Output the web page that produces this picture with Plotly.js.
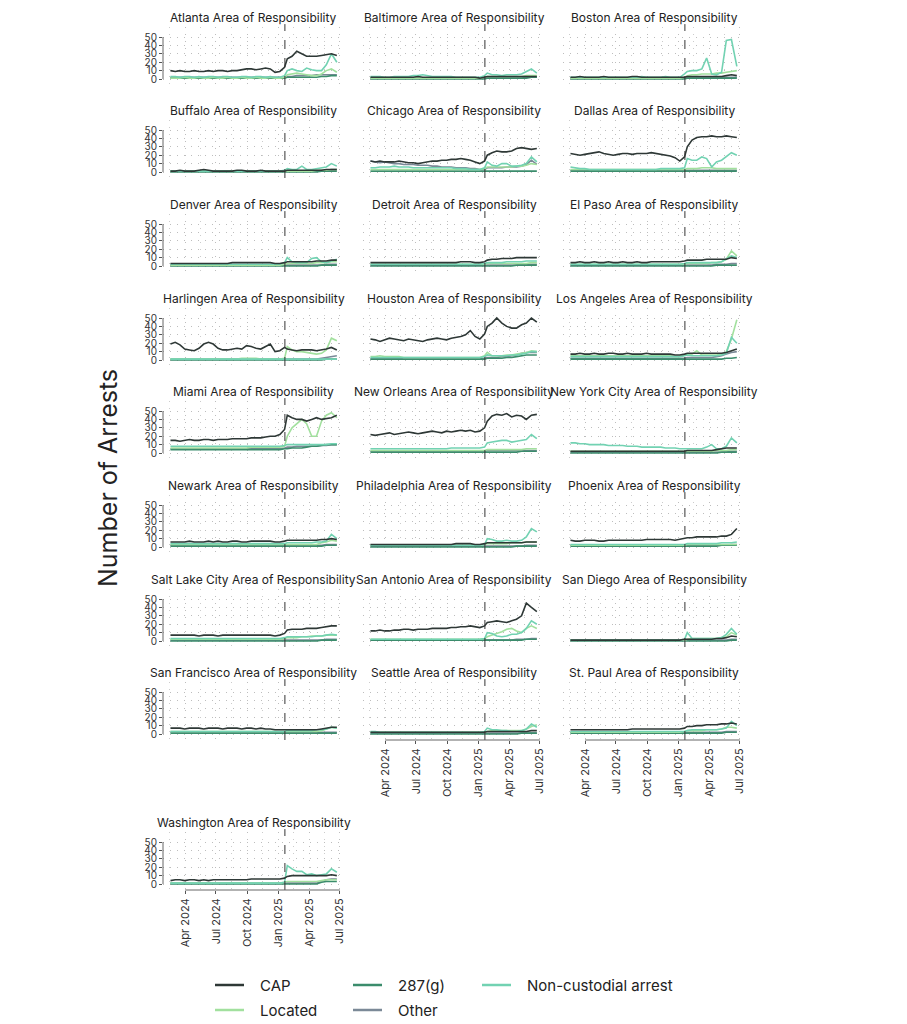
<!DOCTYPE html>
<html><head><meta charset="utf-8">
<script src="https://cdn.plot.ly/plotly-3.0.1.min.js"></script>
<style>body{margin:0;background:#fff}#chart{width:907px;height:1024px}</style>
</head><body><div id="chart"></div>
<script>
const DATES = ['2024-02-18','2024-03-03','2024-03-17','2024-03-31','2024-04-14','2024-04-28','2024-05-12','2024-05-26','2024-06-09','2024-06-23','2024-07-07','2024-07-21','2024-08-04','2024-08-18','2024-09-01','2024-09-15','2024-09-29','2024-10-13','2024-10-27','2024-11-10','2024-11-24','2024-12-08','2024-12-22','2025-01-05','2025-01-19','2025-01-27','2025-02-10','2025-02-24','2025-03-11','2025-03-25','2025-04-09','2025-04-23','2025-05-08','2025-05-22','2025-06-06','2025-06-22'];
const REGIONS = ['Atlanta','Baltimore','Boston','Buffalo','Chicago','Dallas','Denver','Detroit','El Paso','Harlingen','Houston','Los Angeles','Miami','New Orleans','New York City','Newark','Philadelphia','Phoenix','Salt Lake City','San Antonio','San Diego','San Francisco','Seattle','St. Paul','Washington'];
const SERIES = ['CAP','287(g)','Non-custodial arrest','Located','Other'];
const TICK_DATES = ['2024-04-01','2024-07-01','2024-10-01','2025-01-01','2025-04-01','2025-07-01'];
const TICK_TEXT = ['Apr 2024','Jul 2024','Oct 2024','Jan 2025','Apr 2025','Jul 2025'];
const MINOR_DATES = ['2024-02-15','2024-05-16','2024-08-16','2024-11-15','2025-02-14','2025-05-16'];
const Y_TICKS = [0,10,20,30,40,50];
const EVENT_DATE = '2025-01-20';

// Atlanta
const ATL_CAP = [10,9,10,9,9,10, 9,9,10,9,10,10, 9,10,10,11,12,12, 11,12,13,12,8,9, 14,24,27,33,30,27,27,27,28,29,30,28];
const ATL_287 = [1,1,1,1,1,1, 1,1,1,1,1,1, 1,1,1,1,1,1, 1,1,1,1,1,1, 1,2,2,2,2,2,2,2,3,3,4,4];
const ATL_NC  = [3,3,2,3,3,2, 3,2,3,3,2,3, 3,2,2,3,3,2, 3,3,2,3,2,2, 4,10,12,10,9,13,11,10,10,17,30,20];
const ATL_LOC = [1,1,1,2,1,1, 2,1,1,2,1,1, 2,1,1,2,1,1, 2,1,1,2,1,1, 2,5,6,7,6,5,4,4,6,10,12,8];
const ATL_OTH = [2,2,2,2,2,2, 2,2,2,2,2,2, 2,2,2,2,2,2, 2,2,2,2,2,2, 2,3,3,4,4,4,4,5,5,5,5,5];
// Baltimore
const BAL_CAP = [2,2,2,2,2,2, 2,2,2,2,3,2, 2,2,2,2,2,2, 2,2,2,2,2,1, 2,3,3,3,3,3,3,3,3,3,3,3];
const BAL_287 = [0,0,0,0,0,0, 0,0,0,0,0,0, 0,0,0,0,0,0, 0,0,0,0,0,0, 0,1,1,1,1,1,1,1,1,1,2,2];
const BAL_NC  = [3,3,3,2,2,3, 3,3,3,4,4,5, 4,3,3,3,3,3, 2,2,2,2,2,2, 4,7,5,5,4,5,5,5,6,9,12,7];
const BAL_LOC = [1,1,1,1,1,1, 1,1,1,1,1,1, 1,1,1,1,1,1, 1,1,1,1,1,1, 2,3,3,3,3,3,3,3,3,4,4,4];
const BAL_OTH = [1,1,1,1,1,1, 1,1,1,1,1,1, 1,1,1,1,1,1, 1,1,1,1,1,1, 1,1,1,1,1,1,1,1,2,2,2,2];
// Boston
const BOS_CAP = [2,2,3,2,2,2, 2,3,2,2,2,2, 2,3,3,2,2,2, 2,2,2,2,2,2, 2,3,3,3,3,3,3,3,3,4,5,4];
const BOS_287 = [0,0,0,0,0,0, 0,0,0,0,0,0, 0,0,0,0,0,0, 0,0,0,0,0,0, 0,1,1,1,1,1,1,1,1,1,1,1];
const BOS_NC  = [2,2,2,2,2,2, 2,2,2,2,2,2, 2,2,2,3,2,2, 2,2,3,2,2,2, 6,9,10,10,12,25,6,5,8,46,47,15];
const BOS_LOC = [1,1,1,1,1,1, 1,1,1,1,1,1, 1,1,1,1,1,1, 1,1,1,1,1,1, 2,4,5,5,6,6,6,7,7,8,9,10];
const BOS_OTH = [1,1,1,1,1,1, 1,1,1,1,1,1, 1,1,1,1,1,1, 1,1,1,1,1,1, 1,1,1,1,1,1,1,1,1,2,2,2];
// Buffalo
const BUF_CAP = [1,1,2,1,1,1, 2,3,2,1,1,1, 1,1,2,2,1,1, 1,2,1,1,1,1, 1,2,2,2,2,2,2,2,2,3,3,3];
const BUF_287 = [0,0,0,0,0,0, 0,0,0,0,0,0, 0,0,0,0,0,0, 0,0,0,0,0,0, 0,0,0,0,0,0,0,0,1,1,1,1];
const BUF_NC  = [1,1,1,1,1,1, 1,1,1,1,1,1, 1,1,1,1,1,1, 1,1,1,1,1,1, 2,4,3,3,7,3,3,4,5,6,10,7];
const BUF_LOC = [1,1,1,1,1,1, 1,1,1,1,1,1, 1,1,1,1,1,1, 1,1,1,1,1,1, 1,1,1,1,1,1,1,2,2,2,3,3];
const BUF_OTH = [1,1,1,1,1,1, 1,1,1,1,1,1, 1,1,1,1,1,1, 1,1,1,1,1,1, 1,1,1,1,1,1,1,1,2,2,3,3];
// Chicago
const CHI_CAP = [13,12,13,12,12,12, 13,12,11,11,10,11, 12,13,13,14,14,15, 15,16,15,14,12,10, 13,20,23,25,24,24,25,28,29,28,27,28];
const CHI_287 = [1,1,1,1,1,1, 1,1,1,1,1,1, 1,1,1,1,1,1, 1,1,1,1,1,1, 1,1,1,1,1,1,1,1,1,1,1,1];
const CHI_NC  = [5,5,6,6,6,7, 6,6,6,5,5,5, 5,5,5,5,5,5, 4,4,4,3,3,3, 5,12,8,7,10,10,7,7,8,10,18,12];
const CHI_LOC = [3,3,3,3,3,3, 3,3,3,3,3,3, 3,3,3,3,3,3, 3,3,3,3,3,3, 4,6,6,6,6,6,6,7,7,8,10,9];
const CHI_OTH = [13,12,11,12,11,10, 10,9,9,9,8,8, 8,7,7,6,6,6, 5,5,5,4,4,3, 3,5,5,5,5,6,6,6,7,9,14,9];
// Dallas
const DAL_CAP = [22,21,20,21,22,23, 24,22,21,20,21,22, 22,21,22,22,22,23, 22,21,20,19,17,13, 18,30,38,41,42,42,43,42,42,43,42,41];
const DAL_287 = [1,1,1,1,1,1, 1,1,1,1,1,1, 1,1,1,1,1,1, 1,1,1,1,1,1, 1,1,1,1,1,1,1,1,1,1,1,1];
const DAL_NC  = [6,5,4,4,3,3, 3,3,3,3,3,3, 3,3,3,3,3,3, 3,4,4,4,4,4, 5,16,14,14,18,16,6,12,14,18,23,20];
const DAL_LOC = [3,3,3,3,3,3, 3,3,3,3,3,3, 3,3,3,3,3,3, 3,3,3,3,3,3, 3,4,4,4,5,5,5,4,4,4,4,4];
const DAL_OTH = [2,2,2,2,2,2, 2,2,2,2,2,2, 2,2,2,2,2,2, 2,2,2,2,2,2, 2,2,2,2,2,2,2,2,2,2,2,2];
// Denver
const DEN_CAP = [3,3,3,3,3,3, 3,3,3,3,3,3, 3,4,4,4,4,4, 4,4,4,4,3,3, 4,5,5,5,5,5,5,6,6,6,7,7];
const DEN_287 = [0,0,0,0,0,0, 0,0,0,0,0,0, 0,0,0,0,0,0, 0,0,0,0,0,0, 0,0,0,0,0,0,0,0,1,1,1,1];
const DEN_NC  = [2,2,2,2,2,2, 2,2,2,2,2,2, 2,2,2,2,2,2, 2,2,2,2,2,2, 4,10,5,4,4,4,9,10,5,4,6,8];
const DEN_LOC = [1,1,1,1,1,1, 1,1,1,1,1,1, 1,1,1,1,1,1, 1,1,1,1,1,1, 2,3,3,3,3,3,3,4,4,4,5,5];
const DEN_OTH = [1,1,1,1,1,1, 1,1,1,1,1,1, 1,1,1,1,1,1, 1,1,1,1,1,1, 1,1,1,1,1,1,1,1,1,2,2,2];
// Detroit
const DET_CAP = [4,4,4,4,4,4, 4,4,4,4,4,4, 4,4,4,4,4,4, 4,5,5,5,4,4, 5,7,8,8,9,9,9,10,10,10,10,10];
const DET_287 = [0,0,0,0,0,0, 0,0,0,0,0,0, 0,0,0,0,0,0, 0,0,0,0,0,0, 0,0,0,0,0,0,0,1,1,1,1,1];
const DET_NC  = [2,2,2,2,2,2, 2,2,2,2,2,2, 2,2,2,2,2,2, 2,2,2,2,2,2, 3,4,4,4,4,5,5,5,5,6,6,6];
const DET_LOC = [2,2,2,2,2,2, 2,2,2,2,2,2, 2,2,2,2,2,2, 2,2,2,2,2,2, 2,3,3,3,3,3,3,3,3,3,4,4];
const DET_OTH = [1,1,1,1,1,1, 1,1,1,1,1,1, 1,1,1,1,1,1, 1,1,1,1,1,1, 1,1,1,1,1,1,1,1,2,2,2,2];
// El Paso
const ELP_CAP = [4,4,5,4,4,5, 4,4,5,4,4,5, 4,4,5,4,4,5, 5,5,5,5,5,5, 6,7,7,7,7,8,8,8,8,8,10,9];
const ELP_287 = [0,0,0,0,0,0, 0,0,0,0,0,0, 0,0,0,0,0,0, 0,0,0,0,0,0, 0,0,0,0,0,0,0,1,1,1,1,1];
const ELP_NC  = [2,2,2,2,2,2, 2,2,2,2,2,2, 2,2,2,2,2,2, 2,2,2,2,2,2, 3,4,4,4,4,4,4,4,5,8,12,10];
const ELP_LOC = [2,2,2,2,2,2, 2,2,2,2,2,2, 2,2,2,2,2,2, 2,2,2,2,2,2, 2,3,3,3,3,3,4,4,5,8,18,12];
const ELP_OTH = [1,1,1,1,1,1, 1,1,1,1,1,1, 1,1,1,1,1,1, 1,1,1,1,1,1, 1,1,1,1,1,1,1,2,2,2,3,3];
// Harlingen
const HAR_CAP = [19,21,18,13,12,11, 14,19,21,19,14,12, 12,13,14,13,17,16, 14,13,16,19,10,11, 15,13,12,11,12,12,12,11,12,13,15,12];
const HAR_287 = [0,0,0,0,0,0, 0,0,0,0,0,0, 0,0,0,0,0,0, 0,0,0,0,0,0, 0,0,0,0,0,0,0,0,0,1,1,1];
const HAR_NC  = [1,1,1,1,1,1, 1,1,1,1,1,1, 1,1,1,1,1,1, 1,1,1,1,1,1, 1,1,1,1,1,1,1,1,1,1,1,1];
const HAR_LOC = [1,1,1,1,1,1, 1,1,1,1,1,1, 1,1,1,2,2,2, 2,1,1,1,1,1, 2,16,12,10,10,9,8,7,8,12,26,23];
const HAR_OTH = [1,1,1,1,1,1, 1,1,1,1,1,1, 1,1,1,1,1,1, 1,1,1,1,1,1, 1,1,1,1,1,1,1,1,2,3,4,5];
// Houston
const HOU_CAP = [25,24,22,24,26,25, 24,23,25,24,23,22, 24,25,26,25,24,26, 27,28,30,35,28,25, 31,40,44,50,44,40,38,38,42,44,50,45];
const HOU_287 = [1,1,1,1,1,1, 1,1,1,1,1,1, 1,1,1,1,1,1, 1,1,1,1,1,1, 1,2,2,2,2,3,3,4,5,6,6,6];
const HOU_NC  = [3,3,3,3,3,3, 3,3,3,3,3,3, 3,3,3,3,3,3, 3,3,3,3,3,3, 4,6,5,5,5,5,6,6,7,8,10,10];
const HOU_LOC = [4,4,5,4,4,4, 4,3,3,3,3,3, 3,3,3,3,3,3, 3,3,3,3,3,3, 5,9,5,5,5,6,6,7,8,9,11,10];
const HOU_OTH = [1,1,1,1,1,1, 1,1,1,1,1,1, 1,1,1,1,1,1, 1,1,1,1,1,1, 2,3,3,3,4,4,5,6,8,9,9,9];
// Los Angeles
const LAX_CAP = [7,7,8,7,7,8, 7,7,8,8,7,7, 8,7,7,7,8,7, 7,7,7,7,6,6, 7,8,8,8,8,8,8,8,8,9,11,13];
const LAX_287 = [1,1,1,1,1,1, 1,1,1,1,1,1, 1,1,1,1,1,1, 1,1,1,1,1,1, 1,1,1,1,1,1,1,1,1,2,2,3];
const LAX_NC  = [4,4,4,4,4,4, 4,4,4,4,4,4, 4,4,4,4,4,4, 4,4,4,4,4,4, 5,6,5,5,5,5,5,5,6,8,27,20];
const LAX_LOC = [5,5,5,5,5,5, 5,5,5,5,5,5, 5,5,5,5,5,5, 5,5,5,5,4,4, 6,7,7,11,6,6,6,6,7,10,25,48];
const LAX_OTH = [2,2,2,2,2,2, 2,2,2,2,2,2, 2,2,2,2,2,2, 2,2,2,2,2,2, 2,3,3,3,3,3,3,4,5,7,9,10];
// Miami
const MIA_CAP = [15,15,14,15,16,15, 15,16,16,15,16,16, 16,17,17,17,17,18, 18,18,19,20,20,22, 28,45,42,40,40,38,40,42,40,41,42,45];
const MIA_287 = [4,4,4,4,4,4, 4,4,4,4,4,4, 4,4,4,4,4,4, 4,4,4,4,4,4, 5,5,6,6,6,7,8,8,9,10,10,10];
const MIA_NC  = [8,8,8,8,8,8, 8,8,8,8,8,8, 8,8,8,8,8,8, 8,8,8,8,8,8, 9,10,10,10,10,10,10,10,10,10,11,11];
const MIA_LOC = [6,6,6,6,6,6, 6,6,6,6,6,6, 6,6,6,6,6,7, 7,7,7,7,7,7, 8,20,30,35,40,35,20,20,38,45,48,42];
const MIA_OTH = [5,5,5,5,5,5, 5,5,5,5,5,5, 5,5,5,5,5,5, 5,5,5,5,5,5, 6,7,7,8,8,8,8,8,9,9,10,10];
// New Orleans
const NOL_CAP = [22,21,22,23,24,22, 23,24,25,24,23,24, 25,26,25,24,26,25, 26,27,26,27,25,26, 30,38,44,46,45,47,43,45,44,40,45,46];
const NOL_287 = [1,1,1,1,1,1, 1,1,1,1,1,1, 1,1,1,1,1,1, 1,1,1,1,1,1, 1,1,1,1,1,1,1,1,2,2,2,2];
const NOL_NC  = [5,5,5,5,5,5, 5,5,5,5,5,5, 5,5,5,5,5,6, 6,6,6,6,6,6, 7,12,13,14,15,15,13,14,15,16,22,17];
const NOL_LOC = [3,3,3,3,3,3, 3,3,3,3,3,3, 3,3,3,3,3,3, 3,3,3,3,3,3, 3,4,4,4,4,4,4,4,4,5,5,5];
const NOL_OTH = [2,2,2,2,2,2, 2,2,2,2,2,2, 2,2,2,2,2,2, 2,2,2,2,2,2, 2,3,3,3,3,3,3,3,3,3,3,3];
// New York City
const NYC_CAP = [2,2,2,2,2,2, 2,2,2,2,2,2, 2,2,2,2,2,2, 2,2,2,2,2,2, 2,3,3,3,3,3,3,4,5,6,6,6];
const NYC_287 = [0,0,0,0,0,0, 0,0,0,0,0,0, 0,0,0,0,0,0, 0,0,0,0,0,0, 0,0,0,0,0,0,0,0,1,1,1,1];
const NYC_NC  = [12,12,11,11,10,10, 10,10,9,9,9,9, 8,8,8,7,7,7, 7,7,6,6,6,5, 5,5,5,5,5,7,10,5,5,8,18,12];
const NYC_LOC = [2,2,2,2,2,2, 2,2,2,2,2,2, 2,2,2,2,2,2, 2,2,2,2,2,2, 2,2,2,2,2,2,2,3,3,3,4,4];
const NYC_OTH = [1,1,1,1,1,1, 1,1,1,1,1,1, 1,1,1,1,1,1, 1,1,1,1,1,1, 1,1,1,1,1,1,1,1,1,2,2,2];
// Newark
const NWK_CAP = [6,6,6,6,7,6, 6,6,7,6,7,6, 6,7,7,6,6,7, 7,7,7,7,6,6, 7,8,8,8,8,8,8,8,9,9,10,9];
const NWK_287 = [1,1,1,1,1,1, 1,1,1,1,1,1, 1,1,1,1,1,1, 1,1,1,1,1,1, 1,1,1,1,1,1,1,1,1,2,2,2];
const NWK_NC  = [4,4,4,4,4,4, 4,4,4,4,4,4, 4,4,4,4,4,4, 4,4,4,4,4,4, 4,5,5,5,5,5,5,6,6,7,15,10];
const NWK_LOC = [3,3,3,3,3,3, 3,3,3,3,3,3, 3,3,3,3,3,3, 3,3,3,3,3,3, 3,3,3,3,3,3,3,3,5,6,8,7];
const NWK_OTH = [2,2,2,2,2,2, 2,2,2,2,2,2, 2,2,2,2,2,2, 2,2,2,2,2,2, 2,2,2,2,2,2,2,2,2,3,3,3];
// Philadelphia
const PHL_CAP = [3,3,3,3,3,3, 3,3,3,3,3,3, 3,3,3,3,3,3, 4,4,4,4,3,3, 4,5,5,5,5,5,5,5,5,6,6,6];
const PHL_287 = [0,0,0,0,0,0, 0,0,0,0,0,0, 0,0,0,0,0,0, 0,0,0,0,0,0, 0,0,0,0,0,0,0,1,1,1,1,1];
const PHL_NC  = [2,2,2,2,2,2, 2,2,2,2,2,2, 2,2,2,2,2,2, 2,2,2,2,2,2, 3,10,9,7,7,8,7,7,8,12,22,18];
const PHL_LOC = [2,2,2,2,2,2, 2,2,2,2,2,2, 2,2,2,2,2,2, 2,2,2,2,2,2, 3,4,4,4,4,4,5,5,5,6,6,6];
const PHL_OTH = [1,1,1,1,1,1, 1,1,1,1,1,1, 1,1,1,1,1,1, 1,1,1,1,1,1, 1,1,1,1,1,1,1,1,1,2,2,2];
// Phoenix
const PHX_CAP = [8,7,7,8,8,8, 7,7,8,8,8,8, 8,8,8,8,9,9, 9,9,9,9,8,9, 10,11,11,12,12,12,12,12,13,13,15,22];
const PHX_287 = [1,1,1,1,1,1, 1,1,1,1,1,1, 1,1,1,1,1,1, 1,1,1,1,1,1, 1,1,1,1,1,1,1,1,2,2,2,2];
const PHX_NC  = [3,3,3,3,3,3, 3,3,3,3,3,3, 3,3,3,3,3,3, 3,3,3,3,3,3, 3,4,4,4,4,4,4,4,5,5,5,6];
const PHX_LOC = [2,2,2,2,2,2, 2,2,2,2,2,2, 2,2,2,2,2,2, 2,2,2,2,2,2, 2,3,3,3,3,3,3,3,3,3,3,3];
const PHX_OTH = [2,2,2,2,2,2, 2,2,2,2,2,2, 2,2,2,2,2,2, 2,2,2,2,2,2, 2,2,2,2,2,2,2,2,2,2,3,3];
// Salt Lake City
const SLC_CAP = [7,7,7,7,7,7, 6,7,7,7,6,7, 7,7,7,7,7,7, 7,7,7,7,6,7, 9,13,14,14,14,15,15,15,16,17,18,18];
const SLC_287 = [0,0,0,0,0,0, 0,0,0,0,0,0, 0,0,0,0,0,0, 0,0,0,0,0,0, 0,0,0,0,0,0,0,0,1,1,1,1];
const SLC_NC  = [3,3,3,3,3,3, 3,3,3,3,3,3, 3,3,3,3,3,3, 3,3,3,3,3,3, 4,5,5,5,5,5,5,6,6,7,8,7];
const SLC_LOC = [2,2,2,2,2,2, 2,2,2,2,2,2, 2,2,2,2,2,2, 2,2,2,2,2,2, 3,4,4,4,5,5,6,6,6,7,7,7];
const SLC_OTH = [1,1,1,1,1,1, 1,1,1,1,1,1, 1,1,1,1,1,1, 1,1,1,1,1,1, 1,1,1,1,1,1,1,1,1,2,2,2];
// San Antonio
const SAT_CAP = [12,12,13,12,12,13, 13,14,14,13,14,14, 14,15,15,15,15,16, 16,17,17,18,17,16, 18,22,23,24,23,22,24,26,30,45,40,35];
const SAT_287 = [1,1,1,1,1,1, 1,1,1,1,1,1, 1,1,1,1,1,1, 1,1,1,1,1,1, 1,1,1,1,1,1,1,1,1,2,2,2];
const SAT_NC  = [2,2,2,2,2,2, 2,2,2,2,2,2, 2,2,2,2,2,2, 2,2,2,2,2,2, 3,10,9,6,5,6,8,8,10,15,24,20];
const SAT_LOC = [2,2,2,2,2,2, 2,2,2,2,2,2, 2,2,2,2,2,2, 2,2,2,2,2,2, 3,5,7,9,11,14,15,12,10,15,18,15];
const SAT_OTH = [1,1,1,1,1,1, 1,1,1,1,1,1, 1,1,1,1,1,1, 1,1,1,1,1,1, 1,1,1,1,1,1,1,2,2,2,3,3];
// San Diego
const SAN_CAP = [1,1,1,1,1,1, 1,1,1,1,1,1, 1,1,1,1,1,1, 1,1,1,1,1,1, 2,2,2,2,2,2,2,3,3,4,6,5];
const SAN_287 = [0,0,0,0,0,0, 0,0,0,0,0,0, 0,0,0,0,0,0, 0,0,0,0,0,0, 0,0,0,0,0,0,0,0,0,0,1,1];
const SAN_NC  = [1,1,1,1,1,1, 1,1,1,1,1,1, 1,1,1,1,1,1, 1,1,1,1,1,1, 2,10,3,3,3,3,3,3,4,8,15,8];
const SAN_LOC = [1,1,1,1,1,1, 1,1,1,1,1,1, 1,1,1,1,1,1, 1,1,1,1,1,1, 1,2,3,3,3,3,3,3,4,5,10,7];
const SAN_OTH = [1,1,1,1,1,1, 1,1,1,1,1,1, 1,1,1,1,1,1, 1,1,1,1,1,1, 1,1,1,1,1,1,1,1,1,1,2,2];
// San Francisco
const SFO_CAP = [7,7,7,6,7,7, 7,6,7,7,7,6, 7,7,7,6,7,7, 6,7,6,6,5,5, 5,5,5,5,5,5,5,5,6,7,8,8];
const SFO_287 = [1,1,1,1,1,1, 1,1,1,1,1,1, 1,1,1,1,1,1, 1,1,1,1,1,1, 1,1,1,1,1,1,1,1,1,1,1,1];
const SFO_NC  = [3,3,3,3,3,3, 3,3,3,3,3,3, 3,3,3,3,3,3, 3,3,3,3,3,3, 3,4,4,4,4,4,4,5,5,6,8,7];
const SFO_LOC = [3,3,3,3,3,3, 3,3,3,3,3,3, 3,3,3,3,3,3, 3,3,3,3,3,3, 3,3,3,3,3,3,3,3,4,6,8,7];
const SFO_OTH = [2,2,2,2,2,2, 2,2,2,2,2,2, 2,2,2,2,2,2, 2,2,2,2,2,2, 2,2,2,2,2,2,2,2,2,2,2,2];
// Seattle
const SEA_CAP = [2,2,2,2,2,2, 2,2,2,2,2,2, 2,2,2,2,2,2, 2,2,2,2,2,2, 2,3,3,3,3,3,3,3,3,3,4,4];
const SEA_287 = [0,0,0,0,0,0, 0,0,0,0,0,0, 0,0,0,0,0,0, 0,0,0,0,0,0, 0,0,0,0,0,0,0,0,1,1,1,1];
const SEA_NC  = [3,3,2,2,2,2, 2,2,2,2,2,2, 2,2,2,2,2,2, 2,2,2,2,2,2, 3,7,5,5,4,4,3,3,4,6,12,8];
const SEA_LOC = [2,2,2,2,2,2, 2,2,2,2,2,2, 2,2,2,2,2,2, 2,2,2,2,2,2, 2,3,4,4,4,4,4,4,4,6,9,11];
const SEA_OTH = [1,1,1,1,1,1, 1,1,1,1,1,1, 1,1,1,1,1,1, 1,1,1,1,1,1, 1,1,1,1,1,1,1,1,1,1,1,1];
// St. Paul
const STP_CAP = [5,5,5,5,5,5, 5,5,5,5,5,5, 5,6,6,6,6,6, 6,6,6,6,6,6, 7,9,9,10,10,11,11,11,12,12,13,12];
const STP_287 = [1,1,1,1,1,1, 1,1,1,1,1,1, 1,1,1,1,1,1, 1,1,1,1,1,1, 1,1,1,1,1,1,1,1,1,2,2,2];
const STP_NC  = [3,3,3,3,3,3, 3,3,3,3,3,3, 3,3,3,3,3,3, 3,3,3,3,3,3, 3,4,5,5,5,5,5,5,6,7,15,10];
const STP_LOC = [2,2,2,2,2,2, 2,2,2,2,2,2, 2,2,2,2,2,2, 2,2,2,2,2,2, 3,4,4,4,4,5,5,5,6,8,8,7];
const STP_OTH = [2,2,2,2,2,2, 2,2,2,2,2,2, 2,2,2,2,2,2, 2,2,2,2,2,2, 2,2,2,2,2,2,2,2,2,3,3,3];
// Washington
const WAS_CAP = [4,5,5,4,5,5, 4,5,4,5,5,5, 5,5,5,5,5,6, 6,6,6,6,6,6, 7,9,10,10,10,10,10,10,10,10,11,10];
const WAS_287 = [0,0,0,0,0,0, 0,0,0,0,0,0, 0,0,0,0,0,0, 0,0,0,0,0,0, 0,0,0,0,0,0,0,0,2,3,3,3];
const WAS_NC  = [1,1,1,1,1,1, 1,1,1,1,1,1, 1,1,1,1,1,1, 1,1,1,1,1,1, 2,22,18,15,15,11,12,10,11,12,18,14];
const WAS_LOC = [1,1,1,1,1,1, 1,1,1,1,1,1, 1,1,1,1,1,1, 1,1,1,1,1,1, 2,3,3,3,3,3,3,3,4,5,5,5];
const WAS_OTH = [1,1,1,1,1,1, 1,1,1,1,1,1, 1,1,1,1,1,1, 1,1,1,1,1,1, 1,1,1,1,1,1,1,1,3,5,6,6];

// table built from the named arrays: [CAP, 287(g), Non-custodial, Located, Other]
const PANEL_DATA = [
  [ATL_CAP,ATL_287,ATL_NC,ATL_LOC,ATL_OTH],[BAL_CAP,BAL_287,BAL_NC,BAL_LOC,BAL_OTH],[BOS_CAP,BOS_287,BOS_NC,BOS_LOC,BOS_OTH],
  [BUF_CAP,BUF_287,BUF_NC,BUF_LOC,BUF_OTH],[CHI_CAP,CHI_287,CHI_NC,CHI_LOC,CHI_OTH],[DAL_CAP,DAL_287,DAL_NC,DAL_LOC,DAL_OTH],
  [DEN_CAP,DEN_287,DEN_NC,DEN_LOC,DEN_OTH],[DET_CAP,DET_287,DET_NC,DET_LOC,DET_OTH],[ELP_CAP,ELP_287,ELP_NC,ELP_LOC,ELP_OTH],
  [HAR_CAP,HAR_287,HAR_NC,HAR_LOC,HAR_OTH],[HOU_CAP,HOU_287,HOU_NC,HOU_LOC,HOU_OTH],[LAX_CAP,LAX_287,LAX_NC,LAX_LOC,LAX_OTH],
  [MIA_CAP,MIA_287,MIA_NC,MIA_LOC,MIA_OTH],[NOL_CAP,NOL_287,NOL_NC,NOL_LOC,NOL_OTH],[NYC_CAP,NYC_287,NYC_NC,NYC_LOC,NYC_OTH],
  [NWK_CAP,NWK_287,NWK_NC,NWK_LOC,NWK_OTH],[PHL_CAP,PHL_287,PHL_NC,PHL_LOC,PHL_OTH],[PHX_CAP,PHX_287,PHX_NC,PHX_LOC,PHX_OTH],
  [SLC_CAP,SLC_287,SLC_NC,SLC_LOC,SLC_OTH],[SAT_CAP,SAT_287,SAT_NC,SAT_LOC,SAT_OTH],[SAN_CAP,SAN_287,SAN_NC,SAN_LOC,SAN_OTH],
  [SFO_CAP,SFO_287,SFO_NC,SFO_LOC,SFO_OTH],[SEA_CAP,SEA_287,SEA_NC,SEA_LOC,SEA_OTH],[STP_CAP,STP_287,STP_NC,STP_LOC,STP_OTH],
  [WAS_CAP,WAS_287,WAS_NC,WAS_LOC,WAS_OTH]
];

const COLORS = {'CAP':'#2e3836','287(g)':'#3b8c6c','Non-custodial arrest':'#72d2b2','Located':'#a2e09e','Other':'#7b8997'};
const DRAW_ORDER = [4,1,3,2,0]; // Other, 287(g), Located, Non-custodial, CAP on top

const W = 907, H = 1024;
const PX = x => x / W, PY = y => 1 - y / H;
const COL_LEFT = [163, 363, 563], COL_W = 182;
const TITLE_Y = [17, 110, 204, 298, 391, 485, 579, 672, 822];
const FONT = 'Inter, "Noto Sans", Roboto, sans-serif';
const GRID = {showgrid: true, gridcolor: '#bdbdbd', griddash: '1px,6px', gridwidth: 1};

const traces = [], shapes = [], annotations = [];
const layout = {
  width: W, height: H, margin: {l:0, r:0, t:0, b:0},
  paper_bgcolor: '#ffffff', plot_bgcolor: 'rgba(0,0,0,0)',
  showlegend: false, font: {family: FONT, color: '#333'}
};

REGIONS.forEach((name, i) => {
  const row = i < 24 ? Math.floor(i / 3) : 8;
  const col = i < 24 ? i % 3 : 0;
  const n = i + 1, sfx = n === 1 ? '' : String(n);
  const L = COL_LEFT[col], T = TITLE_Y[row];
  const bottom = (i === 22 || i === 23 || i === 24);
  layout['xaxis' + sfx] = Object.assign({
    domain: [PX(L), PX(L + COL_W)], range: ['2024-01-27', '2025-07-16'], type: 'date',
    anchor: 'y' + sfx,
    tickmode: 'array', tickvals: TICK_DATES, ticktext: TICK_TEXT,
    showticklabels: bottom, ticks: bottom ? 'outside' : '', ticklen: 3, tickcolor: '#555',
    tickangle: -90, tickfont: {size: 11, color: '#333', family: FONT},
    minor: {tickmode: 'array', tickvals: MINOR_DATES, showgrid: true, gridcolor: '#cccccc', griddash: '1px,6px', ticks: ''},
    zeroline: false, showline: false, fixedrange: true
  }, GRID);
  layout['yaxis' + sfx] = Object.assign({
    domain: [PY(T + 68), PY(T + 10)], range: [-7.14, 61.9], anchor: 'x' + sfx,
    tickmode: 'array', tickvals: Y_TICKS, showticklabels: col === 0,
    ticks: col === 0 ? 'outside' : '', ticklen: 3, tickcolor: '#555',
    tickfont: {size: 10, color: '#333', family: FONT},
    zeroline: false, showline: false, fixedrange: true
  }, GRID);
  DRAW_ORDER.forEach(s => {
    traces.push({
      type: 'scatter', mode: 'lines', x: DATES, y: PANEL_DATA[i][s], name: SERIES[s],
      xaxis: 'x' + sfx, yaxis: 'y' + sfx,
      line: {color: COLORS[SERIES[s]], width: 1.6}, hoverinfo: 'skip'
    });
  });
  shapes.push({type: 'line', xref: 'x' + sfx, yref: 'y' + sfx + ' domain', x0: EVENT_DATE, x1: EVENT_DATE, y0: 0, y1: 1.05,
    line: {color: '#333', width: 1, dash: 'dash'}});
  if (col === 0) {
    shapes.push({type: 'line', xref: 'x' + sfx + ' domain', yref: 'y' + sfx, x0: 0, x1: 0, y0: 0, y1: 50,
      line: {color: '#666', width: 1}});
  }
  if (bottom) {
    shapes.push({type: 'line', xref: 'x' + sfx, yref: 'y' + sfx + ' domain', x0: TICK_DATES[0], x1: TICK_DATES[5], y0: 0, y1: 0,
      line: {color: '#666', width: 1}});
  }
  annotations.push({text: name + ' Area of Responsibility', xref: 'paper', yref: 'paper',
    x: PX(L + COL_W / 2), y: PY(T), xanchor: 'center', yanchor: 'middle', showarrow: false,
    font: {size: 12, color: '#222', family: FONT}});
});

annotations.push({text: 'Number of Arrests', xref: 'paper', yref: 'paper', x: PX(108), y: PY(478),
  xanchor: 'center', yanchor: 'middle', textangle: -90, showarrow: false, font: {size: 25, color: '#222', family: FONT}});

// legend (manual, two rows, column-major order)
const LEG = [
  {s: 'CAP', lx: 215, ty: 985}, {s: 'Located', lx: 215, ty: 1010},
  {s: '287(g)', lx: 353, ty: 985}, {s: 'Other', lx: 353, ty: 1010},
  {s: 'Non-custodial arrest', lx: 482, ty: 985}
];
LEG.forEach(e => {
  shapes.push({type: 'line', xref: 'paper', yref: 'paper', x0: PX(e.lx), x1: PX(e.lx + 29), y0: PY(e.ty), y1: PY(e.ty),
    line: {color: COLORS[e.s], width: 2.5}});
  annotations.push({text: e.s, xref: 'paper', yref: 'paper', x: PX(e.lx + 43), y: PY(e.ty), xanchor: 'left', yanchor: 'middle',
    showarrow: false, font: {size: 15, color: '#222', family: FONT}});
});

layout.shapes = shapes;
layout.annotations = annotations;
Plotly.newPlot('chart', traces, layout, {staticPlot: true, displayModeBar: false});
</script>
</body></html>
